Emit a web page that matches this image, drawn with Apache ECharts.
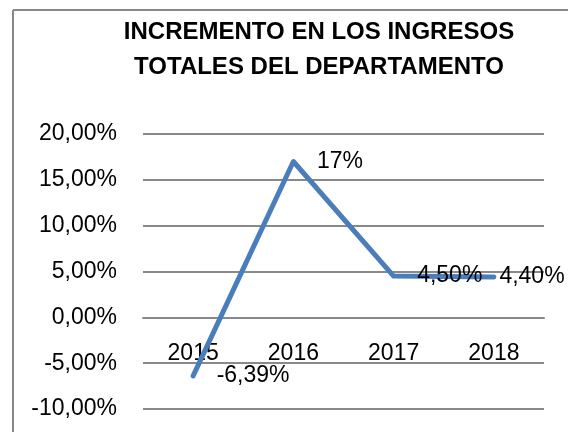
<!DOCTYPE html>
<html>
<head>
    <meta charset="utf-8">
    <script src="https://cdn.jsdelivr.net/npm/echarts@6/dist/echarts.min.js"></script>
    <style>
        html, body { margin: 0; padding: 0; background: #fff; }
        #main { width: 568px; height: 432px; }
    </style>
</head>
<body>
<div id="main"></div>
<script type="text/javascript">
    // datos del grafico
    var years = ['2015', '2016', '2017', '2018'];
    var increments = [-6.39, 17, 4.5, 4.4];
    var valueLabels = ['-6,39%', '17%', '4,50%', '4,40%'];

    var FONT = '"Liberation Sans", Arial, sans-serif';
    var GRAY = '#898989';

    var chartData = increments.map(function (v, i) {
        var item = { value: v, label: { formatter: valueLabels[i] } };
        if (i === 3) {
            item.label.distance = 5;
        }
        return item;
    });

    var myChart = echarts.init(document.getElementById('main'));
    var opt = {
        animation: false,
        title: {
            text: 'INCREMENTO EN LOS INGRESOS\nTOTALES DEL DEPARTAMENTO',
            left: 319,
            top: 15,
            padding: 0,
            textAlign: 'center',
            textStyle: {
                fontFamily: FONT,
                fontWeight: 'bold',
                fontSize: 24,
                lineHeight: 35,
                color: '#000'
            }
        },
        graphic: [
            { type: 'line', shape: { x1: 13, y1: 10, x2: 568, y2: 10 }, style: { stroke: GRAY, lineWidth: 2 } },
            { type: 'line', shape: { x1: 13, y1: 10, x2: 13, y2: 432 }, style: { stroke: GRAY, lineWidth: 2 } }
        ],
        grid: {
            left: 143,
            right: 24,
            top: 134,
            bottom: 23,
            outerBoundsMode: 'none',
            containLabel: false
        },
        xAxis: {
            type: 'category',
            data: years,
            boundaryGap: true,
            // el eje horizontal cruza en 0 (1/3 de la altura desde abajo)
            offset: -91.5,
            axisLine: { show: true, onZero: false, lineStyle: { color: GRAY, width: 2 } },
            axisTick: { show: false },
            axisLabel: {
                margin: 25,
                fontFamily: FONT,
                fontSize: 23,
                color: '#000'
            }
        },
        yAxis: {
            type: 'value',
            min: -10,
            max: 20,
            interval: 5,
            axisLine: { show: false },
            axisTick: { show: false },
            splitLine: { lineStyle: { color: GRAY, width: 2 } },
            axisLabel: {
                margin: 26,
                fontFamily: FONT,
                fontSize: 23,
                color: '#000',
                formatter: function (v) {
                    return v.toFixed(2).replace('.', ',') + '%';
                }
            }
        },
        series: [
            {
                type: 'line',
                data: chartData,
                symbol: 'circle',
                symbolSize: 1,
                itemStyle: { color: '#4a7ebb' },
                lineStyle: { color: '#4a7ebb', width: 5, cap: 'round', join: 'round' },
                label: {
                    show: true,
                    position: 'right',
                    distance: 23,
                    fontFamily: FONT,
                    fontSize: 23,
                    color: '#000'
                },
                z: 3
            }
        ]
    };

    myChart.setOption(option = opt);
</script>
</body>
</html>
